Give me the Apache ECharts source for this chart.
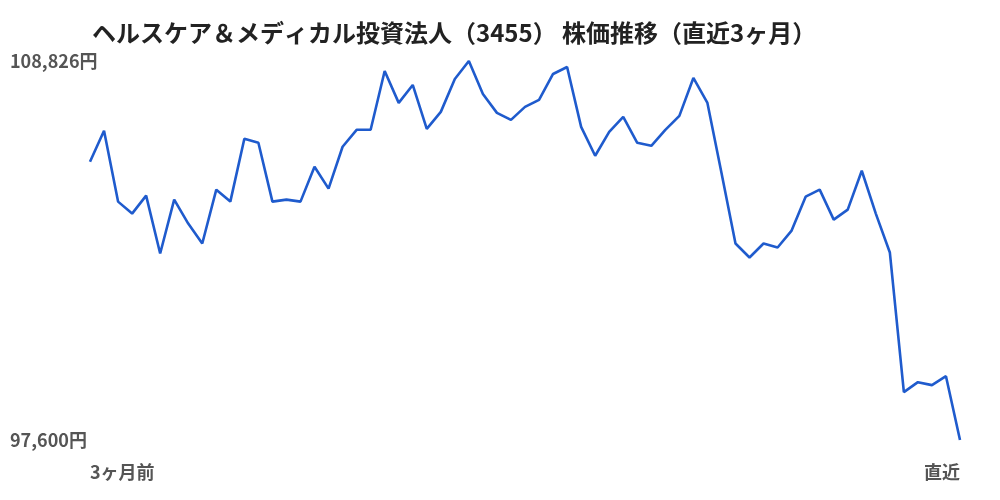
<!DOCTYPE html>
<html lang="ja">
<head>
<meta charset="utf-8">
<title>株価推移</title>
<script src="https://cdn.jsdelivr.net/npm/echarts@6/dist/echarts.min.js"></script>
<style>
    html, body { margin: 0; padding: 0; background: #fff; }
    #chart { width: 1000px; height: 500px; }
</style>
</head>
<body>
<div id="chart"></div>
<script>
// ヘルスケア＆メディカル投資法人（3455） 直近3ヶ月の終値（円）
const titleText = 'ヘルスケア＆メディカル投資法人（3455） 株価推移（直近3ヶ月）';

const prices = [
    105842, 106758, 104661, 104306, 104838, 103124, 104720, 104011, 103420, 105015,
    104661, 106522, 106403, 104661, 104720, 104661, 105695, 105045, 106285, 106788,
    106788, 108531, 107585, 108117, 106817, 107319, 108294, 108826, 107851, 107290,
    107083, 107467, 107674, 108442, 108649, 106876, 106019, 106728, 107172, 106403,
    106315, 106788, 107201, 108324, 107585, 105517, 103420, 103006, 103420, 103302,
    103804, 104808, 105015, 104129, 104424, 105576, 104306, 103154, 99018, 99313,
    99225, 99491, 97600
];

const startLabel = '3ヶ月前';
const endLabel = '直近';

const yMin = Math.min(...prices);
const yMax = Math.max(...prices);

// 横軸は日付の代わりに連番、ラベルは両端だけ出す
const days = prices.map((p, i) => String(i));

const labelFont = {
    fontFamily: 'Noto Sans CJK JP',
    fontSize: 18,
    fontWeight: 'bold',
    color: '#555'
};

function formatYen(v) {
    return v.toLocaleString('en-US') + '円';
}

const chart = echarts.init(document.getElementById('chart'));

const option = {
    animation: false,
    title: {
        text: titleText,
        left: 92,
        top: 21,
        padding: 0,
        textStyle: {
            fontFamily: 'Noto Sans CJK JP',
            fontSize: 24,
            fontWeight: 'bold',
            color: '#222'
        }
    },
    grid: {
        left: 90,
        right: 40,
        top: 61,
        bottom: 60
    },
    xAxis: {
        type: 'category',
        data: days,
        boundaryGap: false,
        axisLine: { show: false },
        axisTick: { show: false },
        splitLine: { show: false },
        axisLabel: {
            ...labelFont,
            margin: 23,
            interval: (i) => i === 0 || i === days.length - 1,
            formatter: (v, i) => {
                if (i === 0) return startLabel;
                if (i === days.length - 1) return endLabel;
                return '';
            },
            alignMinLabel: 'left',
            alignMaxLabel: 'right'
        }
    },
    yAxis: {
        type: 'value',
        min: yMin,
        max: yMax,
        axisLine: { show: false },
        axisTick: { show: false },
        splitLine: { show: false },
        axisLabel: {
            ...labelFont,
            align: 'left',
            margin: 80,
            showMinLabel: true,
            showMaxLabel: true,
            customValues: [yMin, yMax],
            formatter: (v) => (v === yMin || v === yMax ? formatYen(v) : '')
        }
    },
    series: [
        {
            type: 'line',
            data: prices,
            symbol: 'none',
            lineStyle: {
                color: '#1f5bcd',
                width: 2.6
            }
        }
    ]
};

chart.setOption(option);
</script>
</body>
</html>
